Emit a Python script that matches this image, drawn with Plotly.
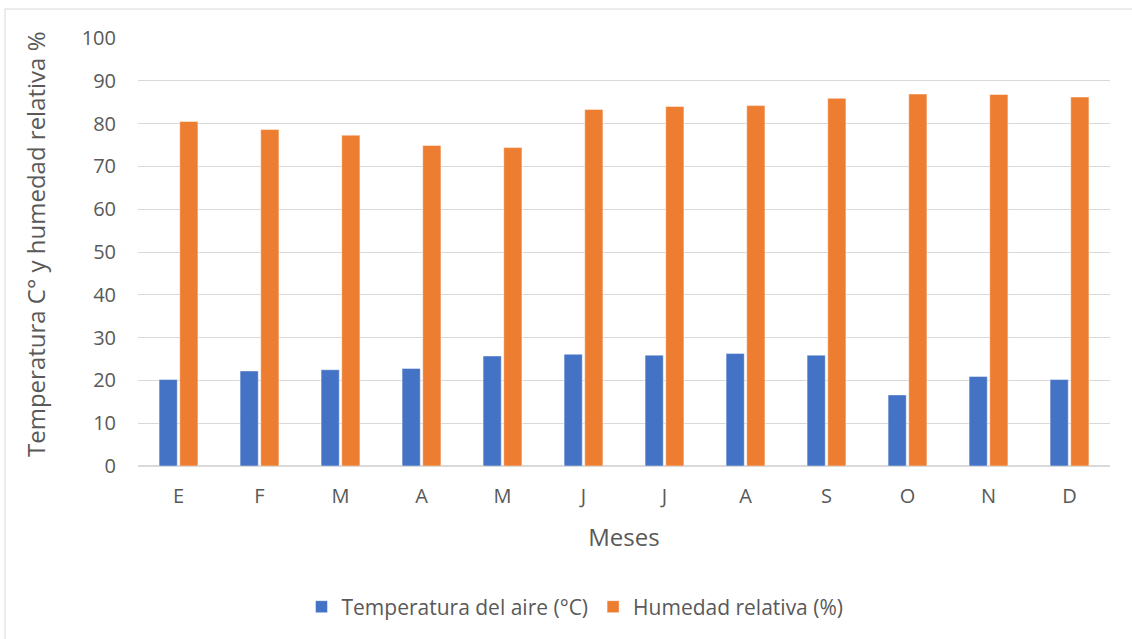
import plotly.graph_objects as go

meses = ["E", "F", "M", "A", "M", "J", "J", "A", "S", "O", "N", "D"]
temperatura = [20.2, 22.2, 22.5, 22.8, 25.7, 26.1, 25.9, 26.3, 25.9, 16.6, 20.9, 20.2]
humedad = [80.5, 78.6, 77.3, 74.9, 74.4, 83.3, 84.0, 84.2, 85.9, 86.9, 86.8, 86.2]
y_ticks = list(range(0, 101, 10))

W, H = 1132, 639
ML, MR, MT, MB = 138, 22, 38, 173

x_idx = list(range(len(meses)))

fig = go.Figure()
fig.add_trace(go.Bar(
    x=x_idx, y=temperatura, name="Temperatura del aire (°C)",
    marker=dict(color="#4472C4", line=dict(color="rgba(255,255,255,0.45)", width=1)),
))
fig.add_trace(go.Bar(
    x=x_idx, y=humedad, name="Humedad relativa (%)",
    marker=dict(color="#ED7D31", line=dict(color="rgba(255,255,255,0.45)", width=1)),
))

font_color = "#595959"
fam = "Open Sans, Lato, sans-serif"


def px_x(p):
    return (p - ML) / (W - ML - MR)


def px_y(p):
    return (H - MB - p) / (H - MT - MB)


fig.update_layout(
    width=W, height=H,
    margin=dict(l=ML, r=MR, t=MT, b=MB),
    paper_bgcolor="white", plot_bgcolor="white",
    barmode="group", bargap=0.49, bargroupgap=0.12,
    font=dict(family=fam, color=font_color, size=20),
    xaxis=dict(
        tickmode="array", tickvals=x_idx, ticktext=meses,
        range=[-0.5, len(meses) - 0.5],
        showgrid=False, zeroline=False, showline=False, ticks="",
        tickfont=dict(size=20, color=font_color),
        ticklabelstandoff=16,
        title=dict(text="Meses", font=dict(size=24, color=font_color), standoff=21),
    ),
    yaxis=dict(
        range=[0, 100], tickvals=y_ticks,
        showgrid=True, gridcolor="#D9D9D9", gridwidth=1,
        zeroline=True, zerolinecolor="#D9D9D9", zerolinewidth=1.5,
        showline=False, ticks="",
        tickfont=dict(size=20, color=font_color),
        ticklabelstandoff=21,
    ),
    annotations=[
        dict(text="Temperatura C° y humedad relativa %", xref="paper", yref="paper",
             x=px_x(35), y=px_y(244), xanchor="center", yanchor="middle",
             textangle=-90, showarrow=False,
             font=dict(size=24, color=font_color)),
    ],
    legend=dict(
        orientation="h", x=px_x(575), y=px_y(607), xanchor="center", yanchor="middle",
        font=dict(size=21, color=font_color), itemwidth=30,
        traceorder="normal",
    ),
    shapes=[
        dict(type="line", xref="paper", yref="paper",
             x0=px_x(5), x1=px_x(1132), y0=px_y(9), y1=px_y(9),
             line=dict(color="#D9D9D9", width=1)),
        dict(type="line", xref="paper", yref="paper",
             x0=px_x(5), x1=px_x(5), y0=px_y(9), y1=px_y(639),
             line=dict(color="#D9D9D9", width=1)),
    ],
)

fig.write_html("out.html")
